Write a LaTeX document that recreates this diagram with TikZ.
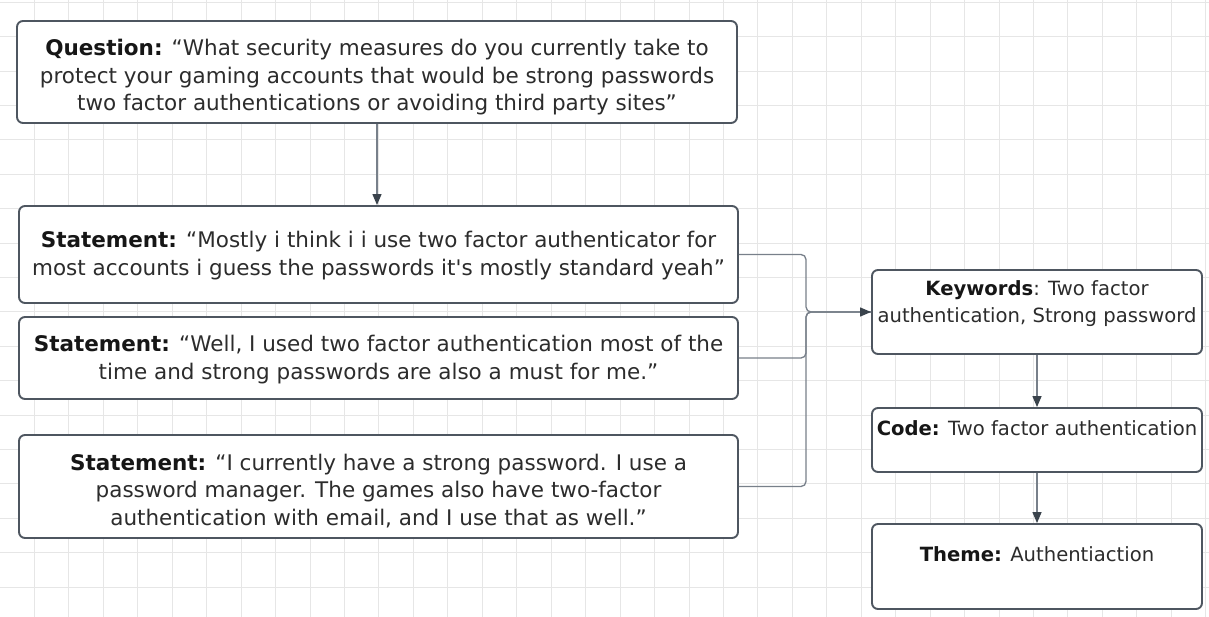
\documentclass[tikz,border=0pt]{standalone}
\usepackage{fontspec}
\setmainfont{DejaVu Sans}[Ligatures=TeXOff]
\usetikzlibrary{arrows.meta}

\definecolor{gridline}{HTML}{E6E6E6}
\definecolor{boxline}{HTML}{4E5660}
\definecolor{wireline}{HTML}{78808A}
\definecolor{tipfill}{HTML}{3A434C}
\definecolor{bodytext}{HTML}{2C2C2C}
\definecolor{labeltext}{HTML}{161616}

\newcommand\lbl[1]{{\bfseries\color{labeltext}#1}}

\tikzset{
  card/.style={draw=boxline, line width=1.9pt, rounded corners=6pt, fill=white, inner sep=0pt},
  leftcard/.style={card, minimum width=719pt},
  rightcard/.style={card, minimum width=330pt},
  lefttext/.style={align=center, text=bodytext, inner sep=0pt,
    font=\fontsize{21.5}{27.5}\selectfont},
  righttext/.style={align=center, text=bodytext, inner sep=0pt,
    font=\fontsize{19.6}{27}\selectfont},
  wire/.style={draw=wireline, line width=1.3pt},
  arrowwire/.style={wire, -{Triangle[length=11pt,width=9pt,color=tipfill]}},
}

\begin{document}
\begin{tikzpicture}[x=1pt, y=-1pt]
  % page and background grid
  \fill[white] (0,0) rectangle (1209,617);
  \useasboundingbox (0,0) rectangle (1209,617);
  \foreach \k in {1,...,35}
    \draw[gridline, line width=1pt] (34.45*\k,0) -- (34.45*\k,617);
  \foreach \k in {0,...,17}
    \draw[gridline, line width=1pt] (0,2.3+34.4*\k) -- (1209,2.3+34.4*\k);

  % boxes
  \node[card, minimum width=720pt, minimum height=102pt] (q) at (377,72) {};
  \node[leftcard, minimum height=97pt]  (s1) at (378.5,254.5) {};
  \node[leftcard, minimum height=82pt]  (s2) at (378.5,358) {};
  \node[leftcard, minimum height=103pt] (s3) at (378.5,486.5) {};
  \node[rightcard, minimum height=84pt] (kw)   at (1037,312) {};
  \node[rightcard, minimum height=64pt] (code) at (1037,440) {};
  \node[rightcard, minimum height=85pt] (th)   at (1037,566.5) {};

  % texts
  \node[lefttext] (qt) at (377,77.7) {%
    \strut\lbl{Question:} “What security measures do you currently take to\\
    \strut protect your gaming accounts that would be strong passwords\\
    \strut two factor authentications or avoiding third party sites”};
  \node[lefttext] (s1t) at (378.5,256) {%
    \strut\lbl{Statement:} “Mostly i think i i use two factor authenticator for\\
    \strut most accounts i guess the passwords it's mostly standard yeah”};
  \node[lefttext] (s2t) at (378.5,360) {%
    \strut\lbl{Statement:} “Well, I used two factor authentication most of the\\
    \strut time and strong passwords are also a must for me.”};
  \node[lefttext] (s3t) at (378.5,492) {%
    \strut\lbl{Statement:} “I currently have a strong password. I use a\\
    \strut password manager. The games also have two-factor\\
    \strut authentication with email, and I use that as well.”};
  \node[righttext] (kwt) at (1037,303.8) {%
    \strut\lbl{Keywords}: Two factor\\
    \strut authentication, Strong password};
  \node[righttext] (codet) at (1037,429.6) {%
    \strut\lbl{Code:} Two factor authentication};
  \node[righttext] (tht) at (1037,555.6) {%
    \strut\lbl{Theme:} Authentiaction};

  % connectors
  \coordinate (j) at (806,312);
  \draw[arrowwire] (q.south) -- (q.south |- s1.north);
  \draw[wire, rounded corners=5pt] (s1.east) -| (j) -- (kw.west);
  \draw[wire, rounded corners=5pt] (s3.east) -| (j) -- (kw.west);
  \draw[arrowwire, rounded corners=5pt] (s2.east) -| (j) -- (kw.west);
  \draw[arrowwire] (kw.south) -- (code.north);
  \draw[arrowwire] (code.south) -- (th.north);
\end{tikzpicture}
\end{document}
